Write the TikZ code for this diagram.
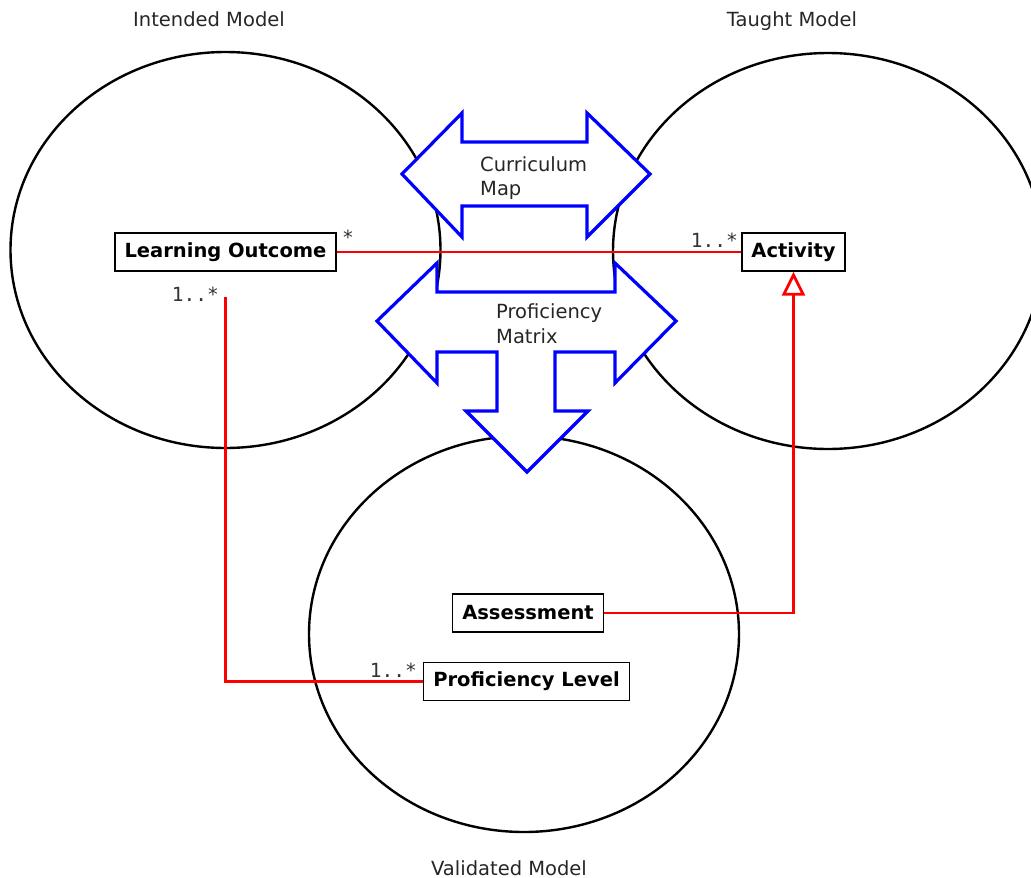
\documentclass[tikz,border=0pt]{standalone}
\usepackage{fontspec}
\setmainfont{DejaVu Sans}
\setmonofont{DejaVu Sans Mono}
\usetikzlibrary{shapes.geometric,arrows.meta}
\begin{document}
\begin{tikzpicture}[x=1pt,y=-1pt,
  every node/.style={font=\fontsize{19.5}{24}\selectfont},
  model/.style={ellipse,draw=black,line width=2.4pt,minimum width=430pt,minimum height=396pt,inner sep=0pt},
  bigarrow/.style={draw=blue,fill=white,line width=3.2pt,line join=miter},
  cls/.style={draw=black,line width=1.4pt,fill=white,font=\fontsize{19.5}{24}\selectfont\bfseries,inner xsep=9.5pt,inner ysep=0pt,minimum height=38pt},
  assoc/.style={draw=red,line width=2.8pt},
  mult/.style={font=\fontsize{19.5}{24}\selectfont\ttfamily,text=black!80,inner sep=0pt},
  caption/.style={text=black!85,inner sep=0pt},
]
\useasboundingbox (0,0) rectangle (1031,878);
\begin{scope}
\clip (0,0) rectangle (1031,878);
% models
\node[model] (intended) at (225.5,250) {};
\node[model] (taught) at (828,251) {};
\node[model] (validated) at (524,634) {};
% curriculum map double arrow
\draw[bigarrow] (402,174) -- (462,113) -- (462,142) -- (587,142) -- (587,113) -- (650,174)
  -- (587,237) -- (587,206) -- (462,206) -- (462,237) -- cycle;
% proficiency matrix triple arrow
\draw[bigarrow] (377,321) -- (437,263) -- (437,292) -- (615,292) -- (615,263) -- (676,321)
  -- (615,383) -- (615,352) -- (555,352) -- (555,411) -- (588,411) -- (527,472)
  -- (466,411) -- (497,411) -- (497,352) -- (437,352) -- (437,383) -- cycle;
\end{scope}
\node[caption,anchor=base west] (cm1) at (480,171) {Curriculum};
\node[caption,anchor=base west] (cm2) at (480,195) {Map};
\node[caption,anchor=base west] (pm1) at (496,318) {Proficiency};
\node[caption,anchor=base west] (pm2) at (496,343) {Matrix};
% captions
\node[caption,anchor=base] (cint) at (209,26) {Intended Model};
\node[caption,anchor=base] (ctau) at (792,26) {Taught Model};
\node[caption,anchor=base] (cval) at (509,875) {Validated Model};
% classes
\node[cls] (lo) at (225.5,252) {Learning Outcome};
\node[cls] (act) at (793.5,252) {Activity};
\node[cls] (as) at (528,613) {Assessment};
\node[cls] (pl) at (526.5,681.5) {Proficiency Level};
% connectors
\draw[assoc] (lo) -- (act);
\draw[assoc,shorten <=25pt] (lo.south) |- (pl.west);
\draw[assoc,-{Triangle[open,fill=white,width=23pt,length=24pt]}] (as.east) -| (act.south);
% multiplicities
\node[mult,anchor=base west] (m1) at (342,244) {*};
\node[mult,anchor=base east] (m2) at (738,247) {1..*};
\node[mult,anchor=base east] (m3) at (219,301) {1..*};
\node[mult,anchor=base east] (m4) at (417,677) {1..*};
\end{tikzpicture}
\end{document}
